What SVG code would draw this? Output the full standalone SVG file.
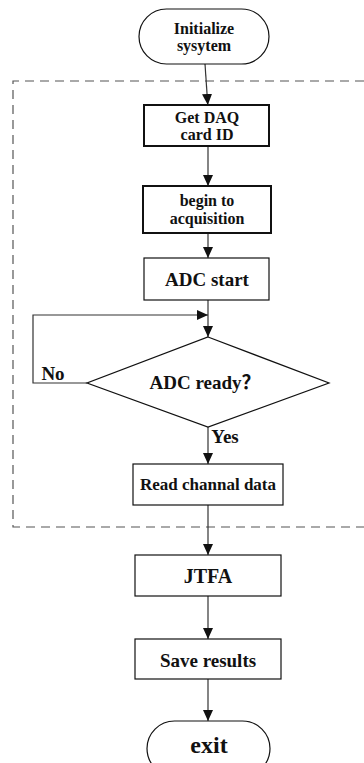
<svg xmlns="http://www.w3.org/2000/svg" width="364" height="763" viewBox="0 0 364 763">
<style>
  text { font-family: "Liberation Serif", "Times New Roman", "Noto Sans CJK SC", serif; font-weight: bold; fill: #111; text-anchor: middle; }
  .box { fill: #fff; stroke: #111; stroke-width: 1.2; }
  .thick { stroke-width: 2; }
  .conn { fill: none; stroke: #333; stroke-width: 1.2; }
  .dash { fill: none; stroke: #555; stroke-width: 1.2; stroke-dasharray: 9 6; }
</style>
<defs>
  <marker id="arrow" markerUnits="userSpaceOnUse" markerWidth="12" markerHeight="12" viewBox="0 0 12 12" refX="11" refY="6" orient="auto">
    <path d="M0,1 L11,6 L0,11 Z" fill="#111"/>
  </marker>
</defs>

<path class="dash" d="M364,81 H13 V527 H364"/>

<g id="connectors">
  <line class="conn" x1="205" y1="64" x2="207.8" y2="105" marker-end="url(#arrow)"/>
  <line class="conn" x1="208" y1="146" x2="208" y2="186" marker-end="url(#arrow)"/>
  <line class="conn" x1="208" y1="233" x2="208" y2="258" marker-end="url(#arrow)"/>
  <line class="conn" x1="208" y1="300" x2="208" y2="337" marker-end="url(#arrow)"/>
  <polyline class="conn" points="87,383 33,383 33,315 208,315" marker-end="url(#arrow)"/>
  <line class="conn" x1="208" y1="427" x2="208" y2="464" marker-end="url(#arrow)"/>
  <line class="conn" x1="208" y1="505" x2="208" y2="555" marker-end="url(#arrow)"/>
  <line class="conn" x1="208" y1="596" x2="208" y2="639" marker-end="url(#arrow)"/>
  <line class="conn" x1="208" y1="679" x2="208" y2="721" marker-end="url(#arrow)"/>
  <text x="53" y="380" font-size="19">No</text>
  <text x="225" y="443" font-size="19">Yes</text>
</g>

<g id="init">
  <rect class="box" x="139" y="9" width="130" height="55" rx="27.5" ry="27.5"/>
  <text x="204" y="34" font-size="16">Initialize</text>
  <text x="204" y="51" font-size="16">sysytem</text>
</g>

<g id="getdaq">
  <rect class="box thick" x="144" y="105" width="125" height="41"/>
  <text x="207" y="123" font-size="16">Get DAQ</text>
  <text x="207" y="140" font-size="16">card ID</text>
</g>

<g id="begin">
  <rect class="box thick" x="143" y="186" width="128" height="47"/>
  <text x="207" y="206" font-size="16">begin to</text>
  <text x="207" y="224" font-size="16">acquisition</text>
</g>

<g id="adcstart">
  <rect class="box" stroke-width="1.5" x="144" y="258" width="125" height="42"/>
  <text x="207" y="286" font-size="19">ADC start</text>
</g>

<g id="adcready">
  <polygon class="box" stroke-width="1" points="208,337 329,383 208,427 87,383"/>
  <text x="205" y="389" font-size="19">ADC ready？</text>
</g>

<g id="read">
  <rect class="box" x="133" y="464" width="150" height="41"/>
  <text x="208" y="490" font-size="17">Read channal data</text>
</g>

<g id="jtfa">
  <rect class="box" x="135" y="555" width="146" height="41"/>
  <text x="208" y="583" font-size="20">JTFA</text>
</g>

<g id="save">
  <rect class="box" x="135" y="639" width="146" height="40"/>
  <text x="208" y="667" font-size="19">Save results</text>
</g>

<g id="exit">
  <rect class="box" x="147" y="721" width="123" height="55" rx="27.5" ry="27.5"/>
  <text x="209" y="753" font-size="24">exit</text>
</g>
</svg>
